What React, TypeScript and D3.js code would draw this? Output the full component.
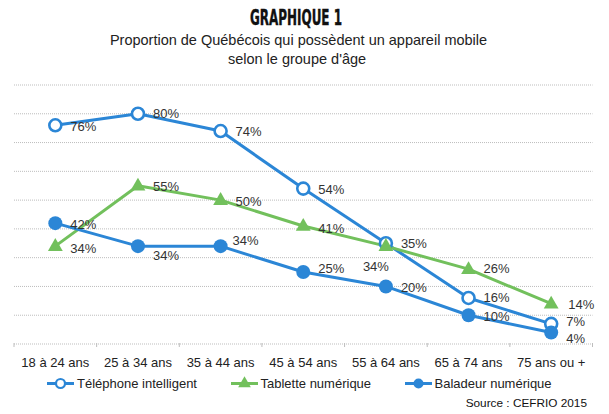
import React from "react";
import * as d3 from "d3";

const categories = ["18 à 24 ans", "25 à 34 ans", "35 à 44 ans", "45 à 54 ans", "55 à 64 ans", "65 à 74 ans", "75 ans ou +"];
const telephone = [76, 80, 74, 54, 35, 16, 7];
const tablette = [34, 55, 50, 41, 34, 26, 14];
const baladeur = [42, 34, 34, 25, 20, 10, 4];
const gridTicks = [0, 10, 20, 30, 40, 50, 60, 70, 80, 90];

const seriesNames = ["Téléphone intelligent", "Tablette numérique", "Baladeur numérique"];

// label nudges (dx, dy) relative to default right-of-point position
const telephoneNudge = [[0, 1], [0, 0], [0, 0], [0, 1], [0, 0], [0, 0], [0, -2.5]];
const tabletteNudge = [[0, 2], [0, 1], [0, 1], [0, 2], [-38, 20], [0, -1], [2, 1]];
const baladeurNudge = [[0, 1], [0, 9], [-3, -6], [0, -4], [0, 1], [0, 1], [0, 6.5]];

const W = 609;
const H = 414;
const BLUE = "#2B86D6";
const GREEN = "#72C05C";
const FONT = "'Liberation Sans', Arial, Helvetica, sans-serif";

export default function App() {
  const x = d3.scaleBand<string>().domain(categories).range([14, 592.5]).padding(0);
  const y = d3.scaleLinear().domain([0, 90]).range([344, 85]);
  const cx = (i: number) => (x(categories[i]) as number) + x.bandwidth() / 2;
  const line = d3.line<number>().x((_, i) => cx(i)).y((d) => y(d));
  const tri = d3.symbol().type(d3.symbolTriangle).size(95);
  const triLegend = d3.symbol().type(d3.symbolTriangle).size(70);

  const series = [
    { name: seriesNames[0], values: telephone, nudge: telephoneNudge, color: BLUE, kind: "open" },
    { name: seriesNames[1], values: tablette, nudge: tabletteNudge, color: GREEN, kind: "tri" },
    { name: seriesNames[2], values: baladeur, nudge: baladeurNudge, color: BLUE, kind: "filled" },
  ];

  const marker = (kind: string, color: string, px: number, py: number, key: any, legend = false) => {
    if (kind === "open")
      return <circle key={key} cx={px} cy={py} r={legend ? 4.5 : 6} fill="#fff" stroke={color} strokeWidth={legend ? 2.2 : 2.6} />;
    if (kind === "filled")
      return <circle key={key} cx={px} cy={py} r={legend ? 5 : 7} fill={color} />;
    return <path key={key} d={(legend ? triLegend : tri)() as string} transform={`translate(${px},${py + (legend ? 0 : 0.5)})`} fill={color} />;
  };

  const legendItems = [
    { lx: 47, tx: 77 },
    { lx: 231, tx: 260.5 },
    { lx: 405, tx: 434.5 },
  ];

  return (
    <svg width={W} height={H} style={{ position: "absolute", left: 0, top: 0, background: "#fff" }} fontFamily={FONT}>
      <rect width={W} height={H} fill="#fff" />
      <text x={296} y={25} textAnchor="middle" fontFamily="'Liberation Sans Narrow', 'DejaVu Sans Condensed', sans-serif" fontWeight="bold" fontSize={21} textLength={92} lengthAdjust="spacingAndGlyphs" fill="#111" stroke="#111" strokeWidth={0.4}>GRAPHIQUE 1</text>
      <text x={298.5} y={44.5} textAnchor="middle" fontSize={14.5} fill="#222">Proportion de Québécois qui possèdent un appareil mobile</text>
      <text x={297} y={63.5} textAnchor="middle" fontSize={14.5} fill="#222">selon le groupe d'âge</text>

      {gridTicks.map((t) => (
        <line key={t} x1={14} x2={592.5} y1={y(t)} y2={y(t)} stroke="#bdbdbd" strokeWidth={1} strokeDasharray="1 1" />
      ))}
      {d3.range(categories.length + 1).map((i) => {
        const px = i < categories.length ? (x(categories[i]) as number) : 592.5;
        return <line key={i} x1={px} x2={px} y1={y(0) - 1} y2={y(0) + 3} stroke="#bdbdbd" strokeWidth={1} />;
      })}
      {categories.map((c, i) => (
        <text key={c} x={cx(i)} y={366.5} textAnchor="middle" fontSize={13} fill="#222">{c}</text>
      ))}

      {series.map((s) => (
        <path key={s.name} d={line(s.values) as string} fill="none" stroke={s.color} strokeWidth={3} strokeLinejoin="round" />
      ))}
      {series.map((s) => (
        <g key={s.name + "m"}>{s.values.map((v, i) => marker(s.kind, s.color, cx(i), y(v), i))}</g>
      ))}
      {series.map((s) => (
        <g key={s.name + "l"}>
          {s.values.map((v, i) => (
            <text key={i} x={cx(i) + 15 + s.nudge[i][0]} y={y(v) + 4.5 + s.nudge[i][1]} fontSize={13} fill="#333">{v}%</text>
          ))}
        </g>
      ))}

      {series.map((s, k) => (
        <g key={s.name + "lg"}>
          <line x1={legendItems[k].lx} x2={legendItems[k].lx + 27} y1={383.5} y2={383.5} stroke={s.color} strokeWidth={3} />
          {marker(s.kind, s.color, legendItems[k].lx + 13.5, 383.5, "m", true)}
          <text x={legendItems[k].tx} y={388} fontSize={13} fill="#222">{s.name}</text>
        </g>
      ))}
      <text x={587} y={406.5} textAnchor="end" fontSize={11.8} fill="#111">Source : CEFRIO 2015</text>
    </svg>
  );
}
